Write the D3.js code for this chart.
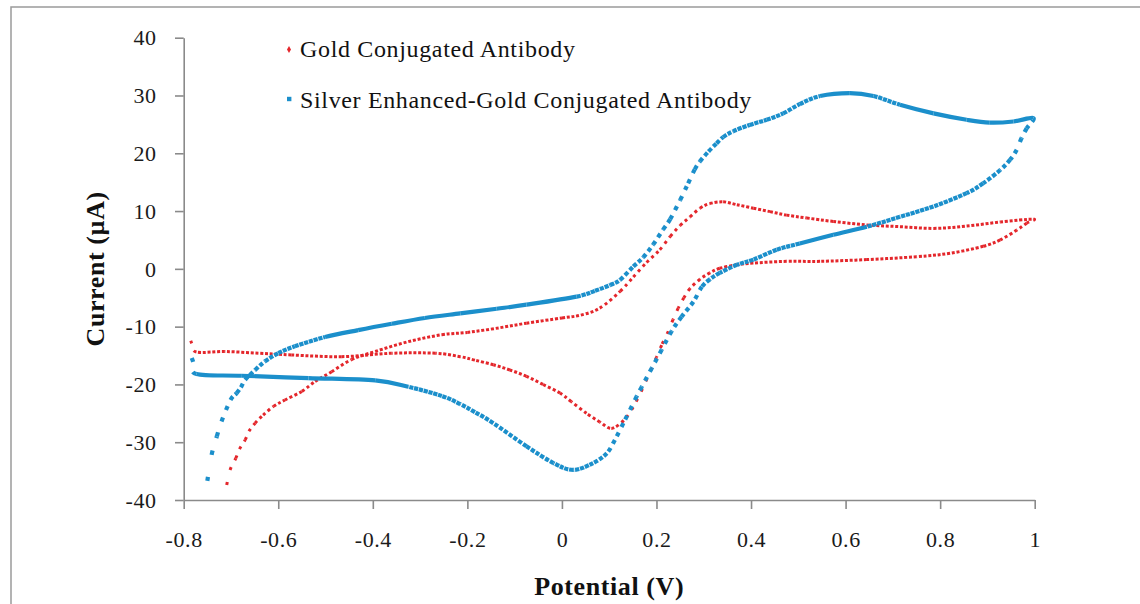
<!DOCTYPE html>
<html>
<head>
<meta charset="utf-8">
<script src="https://cdn.jsdelivr.net/npm/d3@7"></script>
<style>
  html, body { margin: 0; padding: 0; background: #ffffff; }
  svg { display: block; }
  text { font-family: "Liberation Serif", "Times New Roman", "DejaVu Serif", serif; }
</style>
</head>
<body>
<svg id="chart" width="1140" height="604"></svg>
<script>
// ---------------- DATA ----------------
const seriesNames = ["Gold Conjugated Antibody", "Silver Enhanced-Gold Conjugated Antibody"];

// Gold conjugated antibody: forward sweep then reverse sweep (V, µA)
const goldPotential = [
  -0.709, -0.702, -0.690, -0.682, -0.670, -0.662, -0.649, -0.632, -0.610, -0.586,
  -0.550, -0.522, -0.487, -0.445, -0.395, -0.325, -0.254, -0.200, -0.140, -0.075,
   0.000,  0.040,  0.080,  0.123,  0.151,  0.179,  0.207,  0.229,  0.250,  0.271,
   0.292,  0.313,  0.341,  0.370,  0.405,  0.440,  0.475,  0.518,  0.574,  0.645,
   0.715,  0.786,  0.856,  0.927,  0.997,
   0.983,  0.962,  0.927,  0.891,  0.821,  0.750,  0.645,  0.546,  0.475,  0.405,
   0.370,  0.334,  0.313,  0.292,  0.271,  0.258,  0.246,  0.235,  0.225,  0.211,
   0.200,  0.180,  0.160,  0.140,  0.120,  0.102,  0.080,  0.052,  0.020, -0.004,
  -0.040, -0.075, -0.110, -0.145, -0.184, -0.215, -0.268, -0.360, -0.466, -0.572,
  -0.642, -0.713, -0.773, -0.783, -0.790
];
const goldCurrent = [
  -37.4, -34.8, -32.8, -31.2, -29.6, -28.1, -26.7, -25.3, -23.8, -22.7,
  -21.2, -19.5, -17.8, -15.7, -14.3, -12.6, -11.4, -11.0, -10.3,  -9.4,
   -8.5,  -8.0,  -6.8,  -3.9,  -1.4,   1.1,   3.3,   5.6,   7.5,   9.0,
   10.5,  11.3,  11.6,  11.1,  10.5,   9.9,   9.3,   8.8,   8.2,   7.6,
    7.3,   7.0,   7.4,   8.1,   8.6,
    7.9,   6.7,   5.0,   3.9,   2.7,   2.1,   1.6,   1.3,   1.3,   1.0,
    0.7,   0.1,  -0.7,  -1.8,  -3.4,  -5.0,  -6.8,  -8.8, -10.8, -13.2,
  -15.3, -19.0, -22.5, -25.3, -27.0, -27.6, -26.5, -25.0, -23.0, -21.5,
  -20.0, -18.6, -17.5, -16.6, -15.8, -15.2, -14.6, -14.6, -15.2, -14.9,
  -14.6, -14.3, -14.4, -12.9, -11.1
];

// Silver enhanced-gold conjugated antibody: forward sweep then reverse sweep (V, µA)
const silverPotential = [
  -0.750, -0.741, -0.730, -0.720, -0.701, -0.688, -0.679, -0.670, -0.649, -0.628,
  -0.600, -0.565, -0.501, -0.431, -0.360, -0.290, -0.215, -0.138, -0.075,  0.031,
   0.070,  0.102,  0.123,  0.151,  0.172,  0.193,  0.214,  0.229,  0.250,  0.267,
   0.281,  0.292,  0.310,  0.327,  0.341,  0.362,  0.397,  0.433,  0.468,  0.503,
   0.546,  0.609,  0.659,  0.715,  0.786,  0.856,  0.905,  0.955,  0.997,
   0.983,  0.972,  0.962,  0.948,  0.927,  0.891,  0.856,  0.786,  0.715,  0.645,
   0.574,  0.503,  0.454,  0.405,  0.370,  0.334,  0.313,  0.296,  0.278,  0.253,
   0.232,  0.211,  0.190,  0.169,  0.158,  0.130,  0.112,  0.095,  0.066,  0.024,
  -0.018, -0.075, -0.145, -0.184, -0.215, -0.254, -0.325, -0.395, -0.536, -0.677,
  -0.773, -0.780, -0.790
];
const silverCurrent = [
  -36.7, -32.2, -29.0, -26.4, -22.7, -21.5, -20.5, -19.2, -17.5, -16.0,
  -14.6, -13.4, -11.8, -10.6,  -9.5,  -8.5,  -7.7,  -6.9,  -6.2,  -4.8,
   -3.8,  -2.8,  -1.9,   0.4,   2.0,   4.2,   6.8,   8.6,  11.9,  14.8,
   17.2,  18.6,  20.3,  21.7,  22.8,  23.8,  24.9,  25.8,  26.9,  28.5,
   29.9,  30.4,  29.9,  28.4,  26.9,  25.8,  25.3,  25.5,  26.1,
   24.3,  22.6,  20.6,  18.9,  17.1,  14.8,  13.1,  10.8,   9.0,   7.3,
    5.9,   4.4,   3.3,   1.6,   0.7,  -0.7,  -1.8,  -3.1,  -5.7,  -8.3,
  -10.8, -14.0, -17.2, -20.4, -22.1, -26.7, -29.6, -31.9, -33.6, -34.8,
  -33.6, -30.7, -26.7, -24.8, -23.4, -22.0, -20.4, -19.3, -18.9, -18.5,
  -18.2, -16.1, -14.0
];

const xTicks = [-0.8, -0.6, -0.4, -0.2, 0, 0.2, 0.4, 0.6, 0.8, 1];
const xTickLabels = ["-0.8", "-0.6", "-0.4", "-0.2", "0", "0.2", "0.4", "0.6", "0.8", "1"];
const yTicks = [-40, -30, -20, -10, 0, 10, 20, 30, 40];
const yTickLabels = ["-40", "-30", "-20", "-10", "0", "10", "20", "30", "40"];
const xTitle = "Potential (V)";
const yTitle = "Current (\u00b5A)";
const scanStep = 0.01; // potential step of the instrument (V), sets the marker spacing

// ---------------- CHART ----------------
const svg = d3.select("#chart");
const W = 1140, H = 604;
const plot = { left: 183.7, right: 1034.7, top: 37.7, bottom: 500 };
const axisColor = "#8a8a8a";
const colors = ["#e4262b", "#1b8fcb"];

svg.append("rect").attr("width", W).attr("height", H).attr("fill", "#ffffff");
// outer chart-area border (runs off the right / bottom edges)
svg.append("rect")
  .attr("x", 11).attr("y", 7).attr("width", W + 20).attr("height", H + 20)
  .attr("fill", "none").attr("stroke", "#9a9a9a").attr("stroke-width", 1.5);

const x = d3.scaleLinear().domain([-0.8, 1]).range([plot.left, plot.right]);
const y = d3.scaleLinear().domain([-40, 40]).range([plot.bottom, plot.top]);

// X axis
const gx = svg.append("g").attr("transform", `translate(0,${plot.bottom})`)
  .call(d3.axisBottom(x).tickValues(xTicks).tickSize(9).tickSizeOuter(0)
    .tickFormat((d, i) => xTickLabels[i]));
gx.select(".domain").attr("stroke", axisColor).attr("stroke-width", 1.6);
gx.selectAll(".tick line").attr("stroke", axisColor).attr("stroke-width", 1.6);
gx.selectAll(".tick text")
  .attr("y", 46.5).attr("dy", 0)
  .attr("fill", "#1a1a1a").style("font-size", "22px").style("letter-spacing", "0.6px");

// Y axis
const gy = svg.append("g").attr("transform", `translate(${plot.left},0)`)
  .call(d3.axisLeft(y).tickValues(yTicks).tickSize(8.7).tickSizeOuter(0)
    .tickFormat((d, i) => yTickLabels[i]));
gy.select(".domain").attr("stroke", axisColor).attr("stroke-width", 1.6);
gy.selectAll(".tick line").attr("stroke", axisColor).attr("stroke-width", 1.6);
gy.selectAll(".tick text")
  .attr("x", -27).attr("dy", "0.33em")
  .attr("fill", "#1a1a1a").style("font-size", "22px").style("letter-spacing", "0.6px");

// Axis titles
svg.append("text")
  .attr("x", (plot.left + plot.right) / 2).attr("y", 595)
  .attr("text-anchor", "middle")
  .style("font-size", "26px").style("font-weight", "bold").style("letter-spacing", "0.6px")
  .attr("fill", "#111").text(xTitle);
svg.append("text")
  .attr("transform", `translate(104,${(plot.top + plot.bottom) / 2}) rotate(-90)`)
  .attr("text-anchor", "middle")
  .style("font-size", "26px").style("font-weight", "bold").style("letter-spacing", "0.6px")
  .attr("fill", "#111").text(yTitle);

// Series: a smooth Catmull-Rom curve through the read points, drawn segment by
// segment so the marker spacing follows the constant potential step of the scan.
const stepPx = x(-0.8 + scanStep) - x(-0.8);
function drawSeries(pot, cur, color, width, marker, minGap) {
  const P = d3.zip(pot, cur).map(d => [x(d[0]), y(d[1])]);
  const g = svg.append("g");
  const n = P.length;
  for (let i = 0; i < n - 1; i++) {
    const p0 = P[Math.max(i - 1, 0)], p1 = P[i], p2 = P[i + 1], p3 = P[Math.min(i + 2, n - 1)];
    const path = d3.path();
    path.moveTo(p1[0], p1[1]);
    path.bezierCurveTo(
      p1[0] + (p2[0] - p0[0]) / 6, p1[1] + (p2[1] - p0[1]) / 6,
      p2[0] - (p3[0] - p1[0]) / 6, p2[1] - (p3[1] - p1[1]) / 6,
      p2[0], p2[1]);
    const el = g.append("path")
      .attr("d", path.toString())
      .attr("fill", "none")
      .attr("stroke", color)
      .attr("stroke-width", width);
    const L = el.node().getTotalLength();
    const dx = Math.max(Math.abs(p2[0] - p1[0]), 0.01);
    const spacing = stepPx * L / dx;
    const gap = spacing - marker;
    if (gap >= minGap) el.attr("stroke-dasharray", `${marker},${gap.toFixed(2)}`);
  }
}
drawSeries(goldPotential, goldCurrent, colors[0], 3, 3, 1.2);
drawSeries(silverPotential, silverCurrent, colors[1], 4.2, 4.2, 0.7);

// Legend
const legend = svg.append("g");
const legendRows = [
  { y: 49.5, base: 57, shape: "diamond" },
  { y: 99, base: 108, shape: "square" }
];
legendRows.forEach((r, i) => {
  if (r.shape === "diamond") {
    legend.append("path")
      .attr("d", d3.symbol(d3.symbolDiamond, 14)())
      .attr("transform", `translate(289,${r.y})`)
      .attr("fill", colors[i]);
  } else {
    legend.append("rect")
      .attr("x", 287).attr("y", r.y - 2.2).attr("width", 4.4).attr("height", 4.4)
      .attr("fill", colors[i]);
  }
  legend.append("text")
    .attr("x", 300).attr("y", r.base)
    .style("font-size", "24px").style("letter-spacing", "0.65px")
    .attr("fill", "#111").text(seriesNames[i]);
});
</script>
</body>
</html>
